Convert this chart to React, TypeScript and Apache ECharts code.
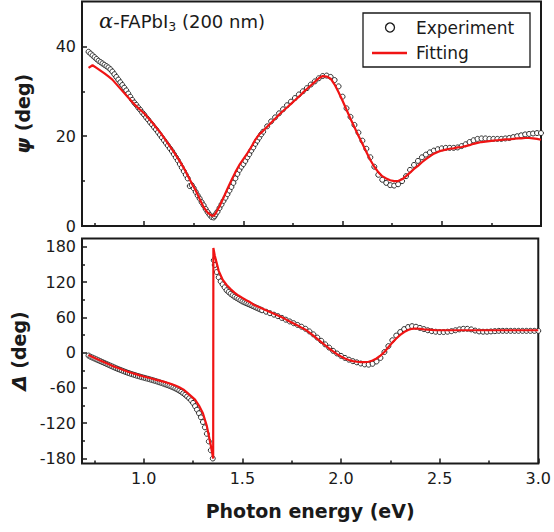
import React, { useEffect, useRef } from 'react';
import * as echarts from 'echarts';

// Photon energy (eV) of the measured points
const expEnergy = [
  0.72, 0.73, 0.74, 0.75, 0.76, 0.77, 0.78, 0.79, 0.80, 0.81,
  0.82, 0.83, 0.84, 0.85, 0.86, 0.87, 0.88, 0.89, 0.90, 0.91,
  0.92, 0.93, 0.94, 0.95, 0.96, 0.97, 0.98, 0.99, 1.00, 1.01,
  1.02, 1.03, 1.04, 1.05, 1.06, 1.07, 1.08, 1.09, 1.10, 1.11,
  1.12, 1.13, 1.14, 1.15, 1.16, 1.17, 1.18, 1.19, 1.20, 1.21,
  1.22, 1.23, 1.24, 1.25, 1.26, 1.27, 1.28, 1.29, 1.30, 1.31,
  1.32, 1.33, 1.34, 1.35, 1.355, 1.36, 1.37, 1.38, 1.39, 1.40,
  1.41, 1.42, 1.43, 1.44, 1.45, 1.46, 1.47, 1.48, 1.49, 1.50,
  1.51, 1.52, 1.53, 1.54, 1.55, 1.56, 1.57, 1.58, 1.59, 1.60,
  1.62, 1.64, 1.66, 1.68, 1.70, 1.72, 1.74, 1.76, 1.78, 1.80,
  1.82, 1.84, 1.86, 1.88, 1.90, 1.92, 1.94, 1.96, 1.98, 2.00,
  2.02, 2.04, 2.06, 2.08, 2.10, 2.12, 2.14, 2.16, 2.18, 2.20,
  2.22, 2.24, 2.26, 2.28, 2.30, 2.32, 2.34, 2.36, 2.38, 2.40,
  2.42, 2.44, 2.46, 2.48, 2.50, 2.52, 2.54, 2.56, 2.58, 2.60,
  2.62, 2.64, 2.66, 2.68, 2.70, 2.72, 2.74, 2.76, 2.78, 2.80,
  2.82, 2.84, 2.86, 2.88, 2.90, 2.92, 2.94, 2.96, 2.98, 3.00,
];

// Measured psi (deg)
const psiExp = [
  38.8, 38.4, 38.0, 37.6, 37.2, 36.8, 36.5, 36.2, 35.9, 35.6,
  35.3, 34.9, 34.4, 33.8, 33.2, 32.6, 32.0, 31.4, 30.8, 30.2,
  29.5, 28.8, 28.1, 27.5, 27.0, 26.4, 25.9, 25.3, 24.8, 24.2,
  23.7, 23.1, 22.6, 22.0, 21.5, 20.9, 20.3, 19.7, 19.1, 18.5,
  17.9, 17.3, 16.7, 16.0, 15.3, 14.6, 13.8, 13.0, 12.2, 11.4,
  10.6, 8.9, 9.1, 8.4, 7.6, 6.8, 6.1, 5.3, 4.6, 3.8,
  3.1, 2.5, 2.0, 1.9, 2.2, 2.6, 3.2, 4.0, 4.8, 5.6,
  6.3, 7.1, 7.9, 8.7, 9.6, 10.6, 11.6, 12.5, 13.2, 13.8,
  14.5, 15.3, 16.0, 16.8, 17.5, 18.3, 19.0, 19.7, 20.4, 21.0,
  22.2, 23.3, 24.2, 25.1, 26.0, 26.9, 27.7, 28.5, 29.3, 30.0,
  30.7, 31.5, 32.2, 32.9, 33.4, 33.5, 33.2, 32.5, 31.1, 28.8,
  26.2, 24.3, 22.5, 20.8, 19.0, 17.2, 15.3, 13.2, 11.4, 10.3,
  9.6, 9.1, 9.0, 9.3, 10.0, 11.1, 12.5, 13.6, 14.5, 15.3,
  15.9, 16.4, 16.8, 17.1, 17.3, 17.4, 17.4, 17.4, 17.5, 17.8,
  18.2, 18.7, 19.1, 19.4, 19.5, 19.5, 19.4, 19.4, 19.4, 19.4,
  19.5, 19.6, 19.8, 20.0, 20.2, 20.4, 20.5, 20.6, 20.7, 20.7,
];

// Measured Delta (deg)
const deltaExp = [
  -5, -7, -8.5, -10, -11.5, -13, -14.5, -16, -17.5, -19,
  -20.5, -22, -23.5, -25, -26.5, -27.9, -29.2, -30.5, -31.8, -33.1,
  -34.4, -35.5, -36.6, -37.7, -38.7, -39.7, -40.7, -41.7, -42.6, -43.5,
  -44.4, -45.3, -46.3, -47.3, -48.3, -49.4, -50.5, -51.6, -52.8, -54,
  -55.2, -56.5, -57.8, -59.2, -60.8, -62.5, -64.5, -66.6, -69, -71.6,
  -74.5, -77.5, -81, -85.5, -91, -97, -103, -110, -118, -127,
  -138, -151, -166, -180, 157, 149, 137, 128, 121, 116,
  111, 106, 103, 100, 97.5, 95, 93, 91, 89, 87,
  85.5, 84, 82.5, 81, 79.5, 78, 76.5, 75, 73.5, 72,
  69.5, 67, 64.5, 62, 59, 56, 53, 50, 47, 44,
  40.5, 36, 31, 25.5, 20, 14, 8.5, 3, -1.5, -5.5,
  -9, -12, -14.5, -16.5, -18.5, -20, -20.5, -19, -15, -9,
  1, 11, 21, 29, 35, 40, 43.5, 45, 44, 42,
  40, 38, 36.5, 35.5, 35, 35, 35.5, 36.5, 38, 39.5,
  40.5, 40.5, 39.5, 37.5, 36, 35.5, 35.5, 36, 36.5, 37,
  37, 37, 37, 37, 37, 37, 37, 37, 37, 37,
];

// Photon energy (eV) of the fitted curve
const fitEnergy = [
  0.72, 0.74, 0.76, 0.78, 0.80, 0.82, 0.84, 0.86, 0.88, 0.90,
  0.92, 0.94, 0.96, 0.98, 1.00, 1.02, 1.04, 1.06, 1.08, 1.10,
  1.12, 1.14, 1.16, 1.18, 1.20, 1.22, 1.24, 1.26, 1.28, 1.30,
  1.32, 1.34, 1.352, 1.353, 1.36, 1.38, 1.40, 1.42, 1.44, 1.46, 1.48,
  1.50, 1.52, 1.54, 1.56, 1.58, 1.60, 1.62, 1.64, 1.66, 1.68,
  1.70, 1.72, 1.74, 1.76, 1.78, 1.80, 1.82, 1.84, 1.86, 1.88,
  1.90, 1.92, 1.94, 1.96, 1.98, 2.00, 2.02, 2.04, 2.06, 2.08,
  2.10, 2.12, 2.14, 2.16, 2.18, 2.20, 2.22, 2.24, 2.26, 2.28,
  2.30, 2.32, 2.34, 2.36, 2.38, 2.40, 2.42, 2.44, 2.46, 2.48,
  2.50, 2.52, 2.54, 2.56, 2.58, 2.60, 2.62, 2.64, 2.66, 2.68,
  2.70, 2.72, 2.74, 2.76, 2.78, 2.80, 2.82, 2.84, 2.86, 2.88,
  2.90, 2.92, 2.94, 2.96, 2.98, 3.00,
];

// Fitted psi (deg)
const psiFit = [
  35.2, 35.8, 35.2, 34.6, 34.0, 33.3, 32.6, 31.6, 30.6, 29.6,
  28.6, 27.6, 26.7, 25.9, 25.1, 24.1, 23.1, 22.0, 20.9, 19.7,
  18.4, 17.1, 15.8, 14.4, 12.9, 11.2, 9.5, 7.9, 6.0, 4.2,
  3.0, 2.3, 2.3, 2.3, 2.8, 4.4, 6.3, 8.3, 10.2, 12.0, 13.6,
  14.9, 16.2, 17.6, 19.2, 20.4, 21.2, 22.1, 23.0, 23.9, 24.8,
  25.6, 26.4, 27.2, 28.0, 28.8, 29.7, 30.5, 31.3, 32.1, 32.9,
  33.4, 33.3, 32.8, 31.5, 29.8, 27.9, 25.9, 23.9, 22.0, 20.1,
  18.3, 16.5, 14.7, 13.2, 12.0, 11.1, 10.6, 10.2, 10.0, 10.0,
  10.4, 11.1, 11.9, 12.7, 13.4, 14.2, 14.9, 15.5, 16.1, 16.5,
  16.8, 17.0, 17.2, 17.3, 17.5, 17.6, 17.8, 18.0, 18.3, 18.5,
  18.7, 18.8, 18.9, 19.0, 19.1, 19.2, 19.3, 19.3, 19.4, 19.5,
  19.5, 19.6, 19.6, 19.5, 19.4, 19.2,
];

// Fitted Delta (deg)
const deltaFit = [
  -4, -7.5, -10.5, -13.5, -16.5, -19.5, -22.5, -25, -27.5, -30,
  -32.5, -34.6, -36.6, -38.6, -40.5, -42.3, -44.1, -45.9, -47.6, -49.4,
  -51.3, -53.5, -56, -59, -62.5, -68, -74, -80, -90, -103,
  -125, -158, -180, 178, 165, 139, 124, 115, 108, 102, 97,
  93, 89, 85.5, 81, 78, 75, 72, 69, 66, 63,
  60, 56.5, 53, 49.5, 46, 42.5, 39, 34, 29, 23.5,
  18, 12.5, 7, 2, -2.5, -6.5, -10, -12.5, -14.5, -15.5,
  -16, -16, -15.5, -13.5, -10, -5, 1, 9, 17, 24,
  30, 35, 38.5, 40.5, 41, 40.5, 39.5, 39, 38.5, 38,
  38, 38, 38, 38, 38, 38, 38, 38, 38, 38,
  38, 38, 38, 38, 38, 38, 38, 38, 38, 38,
  38, 38, 38, 38, 38, 38,
];

const xLabelTicks = [1.0, 1.5, 2.0, 2.5, 3.0];
const xMinorTicks = [0.75, 1.25, 1.75, 2.25, 2.75];
const psiLabelTicks = [0, 20, 40];
const psiMinorTicks = [10, 30];
const deltaLabelTicks = [-180, -120, -60, 0, 60, 120, 180];
const deltaMinorTicks = [-150, -90, -30, 30, 90, 150];

const FONT = "'DejaVu Sans', sans-serif";
const INK = '#1a1a1a';
const RED = '#f01414';

const X_MIN = 0.687;
const X_MAX = 3.0;

function zip(xs: number[], ys: number[]) {
  return xs.map((x, i) => [x, ys[i]]);
}

const nameRich = {
  g: { fontSize: 20, fontWeight: 'bold', fontStyle: 'italic', fontFamily: FONT, color: INK },
  t: { fontSize: 19, fontWeight: 'bold', fontFamily: FONT, color: INK },
};

function xAxisFor(gridIndex: number, major: boolean, labels: boolean, name?: string) {
  return {
    type: 'value',
    gridIndex,
    min: X_MIN,
    max: X_MAX,
    position: 'bottom',
    offset: 0,
    axisLine: { show: false, onZero: false },
    splitLine: { show: false },
    axisTick: {
      show: true,
      inside: true,
      length: major ? 5 : 3,
      customValues: major ? xLabelTicks : xMinorTicks,
      lineStyle: { color: INK, width: 1.5 },
    },
    axisLabel: {
      show: labels,
      customValues: xLabelTicks,
      formatter: (v: number) => v.toFixed(1),
      margin: 7,
      fontSize: 16,
      fontFamily: FONT,
      color: INK,
    },
    name: name || '',
    nameLocation: 'middle',
    nameGap: 38,
    nameTextStyle: { fontSize: 19, fontWeight: 'bold', fontFamily: FONT, color: INK, rich: nameRich },
  };
}

function yAxisFor(
  gridIndex: number,
  min: number,
  max: number,
  ticks: number[],
  labelTicks: number[],
  major: boolean,
  labels: boolean,
  name?: string,
) {
  return {
    type: 'value',
    gridIndex,
    min,
    max,
    position: 'left',
    offset: 0,
    axisLine: { show: false, onZero: false },
    splitLine: { show: false },
    axisTick: {
      show: true,
      inside: true,
      length: major ? 5 : 3,
      customValues: ticks,
      lineStyle: { color: INK, width: 1.5 },
    },
    axisLabel: {
      show: labels,
      customValues: labelTicks,
      margin: 6,
      fontSize: 16,
      fontFamily: FONT,
      color: INK,
    },
    name: name || '',
    nameLocation: 'middle',
    nameGap: 49,
    nameTextStyle: { fontSize: 19, fontWeight: 'bold', fontFamily: FONT, color: INK, rich: nameRich },
  };
}

export default function App() {
  const ref = useRef<HTMLDivElement>(null);

  useEffect(() => {
    if (!ref.current) return;
    const chart = echarts.init(ref.current, null, { renderer: 'svg' });

    const gridStyle = {
      show: true,
      borderColor: INK,
      borderWidth: 2,
      backgroundColor: 'transparent',
    };

    const expStyle = { color: '#fff', borderColor: INK, borderWidth: 0.9, opacity: 1 };

    const option = {
      animation: false,
      backgroundColor: '#fff',
      grid: [
        { left: 82, top: 1.5, width: 459, height: 224.5, ...gridStyle },
        { left: 82, top: 238.5, width: 459, height: 225, ...gridStyle },
      ],
      xAxis: [
        xAxisFor(0, true, false),
        xAxisFor(0, false, false),
        xAxisFor(1, true, true, '{t|Photon energy (eV)}'),
        xAxisFor(1, false, false),
      ],
      yAxis: [
        yAxisFor(0, 0, 50, psiLabelTicks, psiLabelTicks, true, true, '{g|ψ}{t| (deg)}'),
        yAxisFor(0, 0, 50, psiMinorTicks, psiLabelTicks, false, false),
        yAxisFor(1, -188.5, 194, deltaLabelTicks, deltaLabelTicks, true, true, '{g|Δ}{t| (deg)}'),
        yAxisFor(1, -188.5, 194, deltaMinorTicks, deltaLabelTicks, false, false),
      ],
      series: [
        {
          name: 'Experiment',
          type: 'scatter',
          xAxisIndex: 0,
          yAxisIndex: 0,
          data: zip(expEnergy, psiExp),
          symbol: 'circle',
          symbolSize: 5,
          itemStyle: expStyle,
          z: 2,
        },
        {
          name: 'Fitting',
          type: 'line',
          xAxisIndex: 0,
          yAxisIndex: 0,
          data: zip(fitEnergy, psiFit),
          showSymbol: false,
          symbol: 'none',
          lineStyle: { color: RED, width: 2.2 },
          z: 3,
        },
        {
          name: 'Experiment',
          type: 'scatter',
          xAxisIndex: 2,
          yAxisIndex: 2,
          data: zip(expEnergy, deltaExp),
          symbol: 'circle',
          symbolSize: 5,
          itemStyle: expStyle,
          z: 2,
        },
        {
          name: 'Fitting',
          type: 'line',
          xAxisIndex: 2,
          yAxisIndex: 2,
          data: zip(fitEnergy, deltaFit),
          showSymbol: false,
          symbol: 'none',
          lineStyle: { color: RED, width: 2.2 },
          z: 3,
        },
      ],
      graphic: [
        {
          type: 'text',
          x: 99,
          y: 21,
          z: 100,
          style: {
            text: '{a|α}{b|-FAPbI}{s|3}{b| (200 nm)}',
            fontSize: 18,
            fontFamily: FONT,
            fill: INK,
            verticalAlign: 'middle',
            rich: {
              a: { fontSize: 21, fontStyle: 'italic', fontFamily: "'DejaVu Serif', serif", fill: INK },
              b: { fontSize: 18, fontFamily: FONT, fill: INK },
              s: { fontSize: 12.5, fontFamily: FONT, fill: INK, padding: [10, 0, 0, 0] },
            },
          },
        },
        {
          type: 'rect',
          z: 100,
          shape: { x: 363, y: 13, width: 167, height: 54 },
          style: { fill: '#fff', stroke: INK, lineWidth: 1.3 },
        },
        {
          type: 'circle',
          z: 101,
          shape: { cx: 390, cy: 27.5, r: 4.5 },
          style: { fill: '#fff', stroke: INK, lineWidth: 1.3 },
        },
        {
          type: 'text',
          z: 101,
          x: 416,
          y: 28,
          style: { text: 'Experiment', fontSize: 17, fontFamily: FONT, fill: INK, verticalAlign: 'middle' },
        },
        {
          type: 'line',
          z: 101,
          shape: { x1: 372, y1: 53, x2: 407, y2: 53 },
          style: { stroke: RED, lineWidth: 2.4 },
        },
        {
          type: 'text',
          z: 101,
          x: 416,
          y: 53,
          style: { text: 'Fitting', fontSize: 17, fontFamily: FONT, fill: INK, verticalAlign: 'middle' },
        },
      ],
    };

    chart.setOption(option as any);
    return () => chart.dispose();
  }, []);

  return (
    <div
      ref={ref}
      style={{ position: 'fixed', left: 0, top: 0, width: 554, height: 532, background: '#fff' }}
    />
  );
}
